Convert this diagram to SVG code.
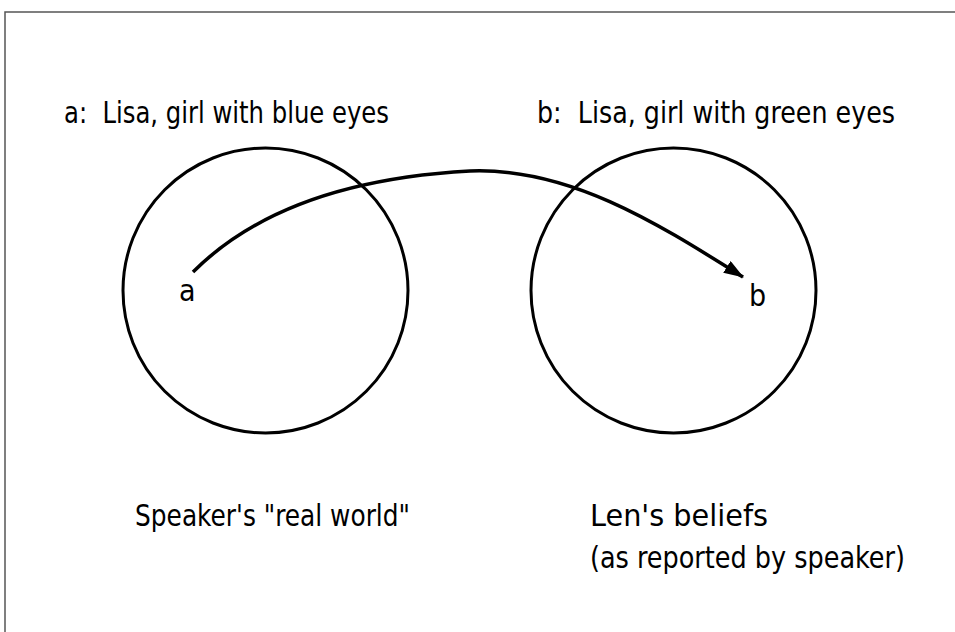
<svg xmlns="http://www.w3.org/2000/svg" width="955" height="632" viewBox="0 0 955 632">
<style>
  .t { font-family: "DejaVu Sans Condensed", "Liberation Sans Narrow", "Liberation Sans", Arial, sans-serif; font-size: 30px; fill: #000; white-space: pre; }
  .c { fill: none; stroke: #000; stroke-width: 3; }
  .frame { fill: none; stroke: #555; stroke-width: 1.5; }
</style>
<defs>
  <marker id="ah" viewBox="0 0 20 14" refX="19" refY="7" markerWidth="20" markerHeight="14" markerUnits="userSpaceOnUse" orient="auto">
    <path d="M0,0 L20,7 L0,14 z" fill="#000"/>
  </marker>
</defs>
<rect width="955" height="632" fill="#fff"/>
<path class="frame" d="M5,632 L5,12 L955,12"/>
<g id="node-a">
  <circle class="c" cx="265.5" cy="290.5" r="142.5"/>
  <text class="t" x="64" y="123" textLength="325" lengthAdjust="spacingAndGlyphs" xml:space="preserve">a:  Lisa, girl with blue eyes</text>
  <text class="t" x="179" y="301">a</text>
  <text class="t" x="135" y="526" textLength="275" lengthAdjust="spacingAndGlyphs">Speaker's "real world"</text>
</g>
<g id="node-b">
  <circle class="c" cx="673.5" cy="290.5" r="142.5"/>
  <text class="t" x="537" y="123" textLength="358" lengthAdjust="spacingAndGlyphs" xml:space="preserve">b:  Lisa, girl with green eyes</text>
  <text class="t" x="749" y="306">b</text>
  <text class="t" x="590" y="526" textLength="178" lengthAdjust="spacingAndGlyphs">Len's beliefs</text>
  <text class="t" x="590" y="568" textLength="315" lengthAdjust="spacingAndGlyphs">(as reported by speaker)</text>
</g>
<g id="connectors">
  <path d="M193,272 C250,215 340,178 470,171 C570,167 660,225 743,277" fill="none" stroke="#000" stroke-width="3.5" marker-end="url(#ah)"/>
</g>
</svg>
